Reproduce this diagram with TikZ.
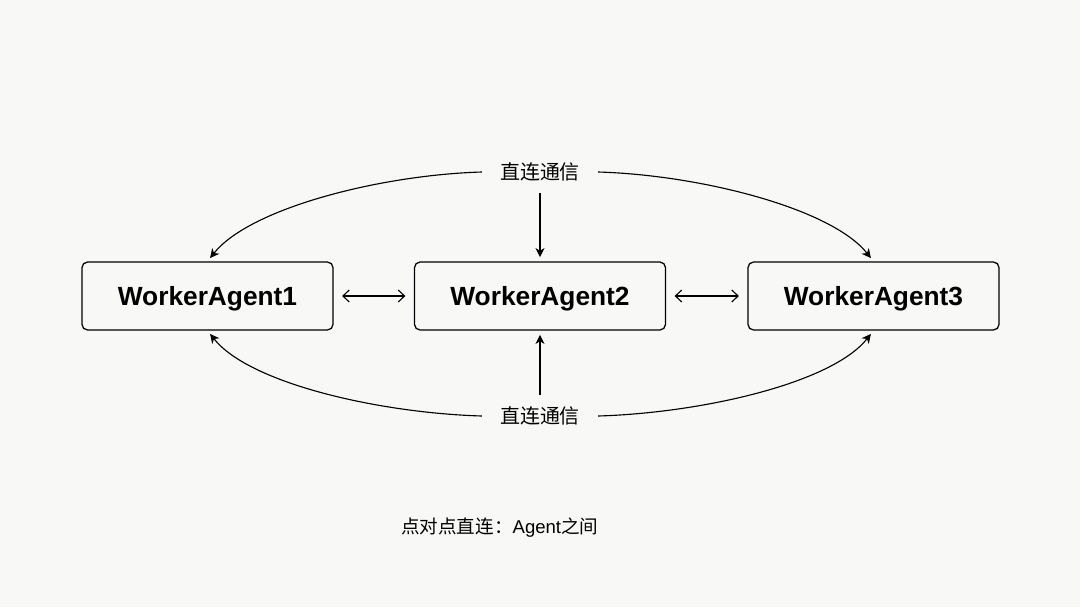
\documentclass[tikz,border=0pt]{standalone}
\usepackage{fontspec}
\setmainfont{Liberation Sans}
\newfontfamily\cjk{Noto Sans CJK SC}
\usepackage{tikz}
\usetikzlibrary{arrows.meta}
\usetikzlibrary{positioning}
\definecolor{fond}{RGB}{248,248,246}
\tikzstyle{agent}=[
        rectangle,
        draw,
        rounded corners=4pt,
        line width=0.9pt,
        minimum width=6.275cm,
        minimum height=1.7cm,
        text depth=0pt,
        font=\fontsize{18.7}{22}\selectfont\bfseries
]
\tikzstyle{canal}=[inner xsep=12.8pt,inner ysep=8pt,font=\fontsize{14.2}{17}\selectfont\cjk]
\tikzstyle{lien}=[-{Stealth[length=6.5pt,width=6.5pt,inset=2pt]},line width=0.8pt,shorten >=3pt]
\tikzstyle{lien2}=[{Straight Barb[length=4.5pt,width=8.5pt]}-{Straight Barb[length=4.5pt,width=8.5pt]},line width=0.8pt,shorten <=6pt,shorten >=6pt]

\begin{document}
\begin{tikzpicture}[x=0.025cm,y=-0.025cm]
\fill[fond] (0,0) rectangle (1080,607);
\useasboundingbox (0,0) rectangle (1080,607);
\node[agent] (w1) at (207.5,296) {WorkerAgent1};
\node[agent] (w2) at (540,296) {WorkerAgent2};
\node[agent] (w3) at (873.5,296) {WorkerAgent3};
\node[canal] (haut) at (540,172) {直连通信};
\node[canal] (bas) at (540,416) {直连通信};
\node[anchor=west,inner sep=0pt,font=\fontsize{13.2}{16}\selectfont] (note) at (401,528) {{\cjk 点对点直连：}Agent{\cjk 之间}};
%Drawing Edges
\draw[lien2] (w1) -- (w2);
\draw[lien2] (w2) -- (w3);
\draw[lien] (haut) -- (w2);
\draw[lien] (bas) -- (w2);
\draw[lien] (haut.west) .. controls +(-102,3) and +(42,-53) .. (w1.north);
\draw[lien] (haut.east) .. controls +(102,3) and +(-42,-53) .. (w3.north);
\draw[lien] (bas.west) .. controls +(-102,-3) and +(42,53) .. (w1.south);
\draw[lien] (bas.east) .. controls +(102,-3) and +(-42,53) .. (w3.south);
\end{tikzpicture}
\end{document}
